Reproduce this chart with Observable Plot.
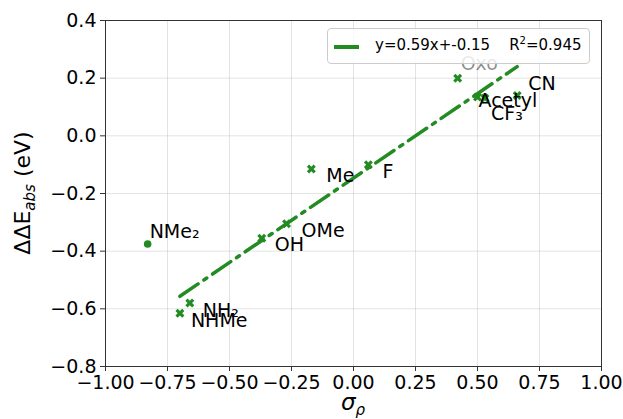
<!DOCTYPE html>
<html><head><meta charset="utf-8">
<script src="https://cdn.jsdelivr.net/npm/d3@7"></script>
<script src="https://cdn.jsdelivr.net/npm/@observablehq/plot@0.6"></script>
<style>
body{margin:0;background:#fff;font-family:"DejaVu Sans",sans-serif;}
#wrap{position:relative;width:623px;height:419px;overflow:hidden;}
#legend{position:absolute;left:327px;top:28px;width:263px;height:36px;background:rgba(255,255,255,0.8);border:1px solid #cccccc;border-radius:4px;box-sizing:border-box;font-size:15px;color:#000;font-family:"DejaVu Sans",sans-serif;}
#legend .sw{position:absolute;left:6px;top:16px;width:25px;height:3.5px;background:#228B22;}
#legend .tx{position:absolute;left:47px;top:7px;white-space:nowrap;line-height:18px;}
#legend sup{font-size:10px;line-height:0;vertical-align:6px;}
</style></head><body>
<div id="wrap"></div>
<script>
// ---- data ----
const substituents = ["NMe₂", "NH₂", "NHMe", "OH", "OMe", "Me", "F", "Oxo", "Acetyl", "CF₃", "CN"];
const sigmaP       = [-0.83, -0.66, -0.70, -0.37, -0.27, -0.17, 0.06, 0.42, 0.50, 0.53, 0.66];
const ddEabs       = [-0.375, -0.58, -0.615, -0.355, -0.305, -0.115, -0.10, 0.20, 0.135, 0.13, 0.14];
const includedInFit = [false, true, true, true, true, true, true, true, true, true, true];
const fitEquation = "y=0.59x+-0.15";
const fitR2 = "0.945";
const xTicks = [-1.0, -0.75, -0.5, -0.25, 0.0, 0.25, 0.5, 0.75, 1.0];
const yTicks = [-0.8, -0.6, -0.4, -0.2, 0.0, 0.2, 0.4];

// ---- build ----
const rows = substituents.map((name, i) => ({name, x: sigmaP[i], y: ddEabs[i], fit: includedInFit[i]}));
const fitRows = rows.filter(d => d.fit);
const outRows = rows.filter(d => !d.fit);
const labelStyle = {
  "NMe₂": [2, -12], "NH₂": [13, 8], "NHMe": [11, 8], "OH": [13, 7], "OMe": [15, 7],
  "Me": [15, 7], "F": [14, 7], "Oxo": [3, -14, 0.45], "Acetyl": [1, 4], "CF₃": [6, 16], "CN": [11, -12]
};
const green = "#228B22";
const fmtX = d3.format(".2f"), fmtY = d3.format(".1f");

const chart = Plot.plot({
  width: 623, height: 419,
  marginLeft: 105, marginRight: 22, marginTop: 20, marginBottom: 53,
  x: {domain: [-1, 1]},
  y: {domain: [-0.8, 0.4]},
  style: {fontFamily: "DejaVu Sans, sans-serif", fontSize: "19px", color: "#000", background: "#fff", overflow: "visible"},
  marks: [
    Plot.gridX(xTicks, {stroke: "#b0b0b0", strokeOpacity: 0.35, strokeWidth: 1}),
    Plot.gridY(yTicks, {stroke: "#b0b0b0", strokeOpacity: 0.35, strokeWidth: 1}),
    Plot.axisX(xTicks, {tickFormat: fmtX, tickSize: 5, tickPadding: 4, label: null, fontSize: 19, stroke: "#333"}),
    Plot.axisY(yTicks, {tickFormat: fmtY, tickSize: 5, tickPadding: 4, label: null, fontSize: 19, stroke: "#333"}),
    Plot.frame({stroke: "#333", strokeWidth: 1}),
    Plot.linearRegressionY(fitRows, {x: "x", y: "y", stroke: green, strokeWidth: 3.5, strokeDasharray: "22,7,3.5,7", ci: 0}),
    Plot.dot(fitRows, {x: "x", y: "y", symbol: "cross", rotate: 45, r: 4, fill: green, stroke: "none"}),
    Plot.dot(outRows, {x: "x", y: "y", symbol: "circle", r: 3.8, fill: green, stroke: "none"}),
    ...rows.map(d => Plot.text([d], {x: "x", y: "y", text: "name", textAnchor: "start",
      dx: labelStyle[d.name][0], dy: labelStyle[d.name][1], fontSize: 19, fill: "#000",
      fillOpacity: labelStyle[d.name][2] ?? 1}))
  ]
});

const svg = d3.select(chart);
// y axis label with subscript
const yl = svg.append("text")
  .attr("transform", "translate(30,193) rotate(-90)")
  .attr("text-anchor", "middle").attr("font-size", 22).attr("fill", "#000")
  .attr("font-family", "DejaVu Sans, sans-serif");
yl.append("tspan").text("ΔΔE");
yl.append("tspan").attr("font-size", 15).attr("font-style", "italic").attr("dy", 5).text("abs");
yl.append("tspan").attr("dy", -5).text(" (eV)");
// x axis label
const xl = svg.append("text")
  .attr("x", 353).attr("y", 410)
  .attr("text-anchor", "middle").attr("font-size", 23).attr("fill", "#000")
  .attr("font-family", "DejaVu Sans, sans-serif").attr("font-style", "italic");
xl.append("tspan").text("σ");
xl.append("tspan").attr("font-size", 15).attr("dy", 5).text("ρ");

const wrap = document.getElementById("wrap");
wrap.appendChild(chart);
const leg = document.createElement("div");
leg.id = "legend";
leg.innerHTML = '<div class="sw"></div><div class="tx"></div>';
leg.querySelector(".tx").innerHTML = fitEquation + "&nbsp;&nbsp;&nbsp;&nbsp;R<sup>2</sup>=" + fitR2;
wrap.appendChild(leg);
</script>
</body></html>
